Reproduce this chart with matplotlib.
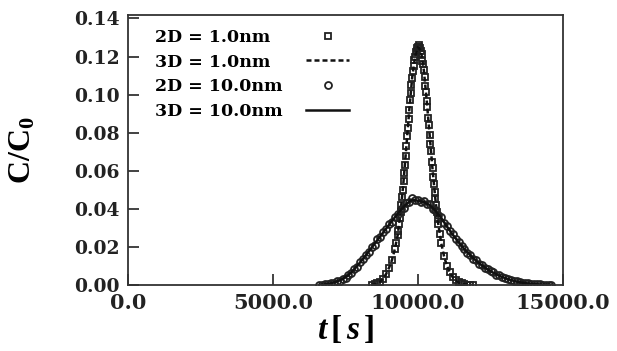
import matplotlib
matplotlib.use('Agg')
import matplotlib.pyplot as plt

plt.rcParams['mathtext.fontset'] = 'custom'
plt.rcParams['mathtext.rm'] = 'Liberation Serif:bold'
plt.rcParams['mathtext.it'] = 'Liberation Serif:bold:italic'
plt.rcParams['mathtext.bf'] = 'Liberation Serif:bold'

# 2D, D = 1.0nm (squares)
t_2d_1nm = [8400, 8500, 8600, 8700, 8800, 8900, 9000, 9100, 9200, 9250,
            9300, 9325, 9350, 9375, 9400, 9425, 9450, 9475, 9500, 9525,
            9550, 9575, 9600, 9625, 9650, 9675, 9700, 9725, 9750, 9775,
            9800, 9825, 9850, 9875, 9900, 9925, 9950, 9975, 10000, 10025,
            10050, 10075, 10100, 10125, 10150, 10175, 10200, 10225, 10250, 10275,
            10300, 10325, 10350, 10375, 10400, 10425, 10450, 10475, 10500, 10525,
            10550, 10575, 10600, 10625, 10650, 10675, 10700, 10750, 10800, 10900,
            11000, 11100, 11200, 11300, 11400, 11500, 11600, 11700, 11800, 11900]
c_2d_1nm = [0.0002, 0.0004, 0.0009, 0.0018, 0.0034, 0.0058, 0.0090, 0.0130, 0.0188, 0.0220,
            0.0262, 0.0285, 0.0318, 0.0352, 0.0383, 0.0418, 0.0462, 0.0497, 0.0545, 0.0588,
            0.0632, 0.0680, 0.0728, 0.0785, 0.0826, 0.0874, 0.0918, 0.0972, 0.1008, 0.1052,
            0.1086, 0.1125, 0.1148, 0.1182, 0.1196, 0.1224, 0.1228, 0.1245, 0.1250, 0.1262,
            0.1248, 0.1245, 0.1228, 0.1212, 0.1176, 0.1162, 0.1128, 0.1094, 0.1046, 0.1012,
            0.0968, 0.0934, 0.0876, 0.0842, 0.0790, 0.0738, 0.0702, 0.0648, 0.0612, 0.0566,
            0.0532, 0.0486, 0.0452, 0.0418, 0.0384, 0.0348, 0.0322, 0.0268, 0.0222, 0.0152,
            0.0100, 0.0066, 0.0040, 0.0025, 0.0014, 0.0008, 0.0004, 0.0002, 0.0001, 0.0000]

# 3D, D = 1.0nm (dotted line)
t_3d_1nm = [8400, 8500, 8600, 8700, 8800, 8900, 9000, 9100, 9200, 9300,
            9400, 9500, 9600, 9700, 9800, 9900, 10000, 10100, 10200, 10300,
            10400, 10500, 10600, 10700, 10800, 10900, 11000, 11100, 11200, 11300,
            11400, 11500, 11600, 11700, 11800, 11900]
c_3d_1nm = [0.0002, 0.0004, 0.0009, 0.0018, 0.0034, 0.0058, 0.0090, 0.0130, 0.0188, 0.0262,
            0.0383, 0.0542, 0.0730, 0.0920, 0.1090, 0.1200, 0.1250, 0.1230, 0.1130, 0.0970,
            0.0790, 0.0610, 0.0450, 0.0320, 0.0220, 0.0150, 0.0100, 0.0066, 0.0040, 0.0025,
            0.0014, 0.0008, 0.0004, 0.0002, 0.0001, 0.0000]

# 2D, D = 10.0nm (circles)
t_2d_10nm = [6600, 6700, 6800, 6900, 7000, 7100, 7200, 7300, 7400, 7500,
             7600, 7700, 7800, 7900, 8000, 8100, 8200, 8300, 8400, 8500,
             8600, 8700, 8800, 8900, 9000, 9100, 9200, 9300, 9400, 9500,
             9600, 9700, 9800, 9900, 10000, 10100, 10200, 10300, 10400, 10500,
             10600, 10700, 10800, 10900, 11000, 11100, 11200, 11300, 11400, 11500,
             11600, 11700, 11800, 11900, 12000, 12100, 12200, 12300, 12400, 12500,
             12600, 12700, 12800, 12900, 13000, 13100, 13200, 13300, 13400, 13500,
             13600, 13700, 13800, 13900, 14000, 14100, 14200, 14300, 14400, 14500, 14600]
c_2d_10nm = [0.0000, 0.0002, 0.0005, 0.0006, 0.0010, 0.0012, 0.0019, 0.0023, 0.0033, 0.0039,
             0.0054, 0.0064, 0.0085, 0.0097, 0.0121, 0.0134, 0.0159, 0.0173, 0.0199, 0.0212,
             0.0240, 0.0252, 0.0280, 0.0292, 0.0320, 0.0331, 0.0359, 0.0372, 0.0398, 0.0406,
             0.0429, 0.0436, 0.0456, 0.0444, 0.0446, 0.0434, 0.0440, 0.0426, 0.0424, 0.0401,
             0.0394, 0.0368, 0.0356, 0.0326, 0.0311, 0.0281, 0.0268, 0.0240, 0.0228, 0.0203,
             0.0191, 0.0169, 0.0160, 0.0139, 0.0131, 0.0112, 0.0106, 0.0090, 0.0084, 0.0071,
             0.0066, 0.0054, 0.0050, 0.0041, 0.0037, 0.0030, 0.0027, 0.0021, 0.0019, 0.0014,
             0.0013, 0.0009, 0.0009, 0.0006, 0.0005, 0.0004, 0.0003, 0.0002, 0.0001, 0.0001, 0.0000]

# 3D, D = 10.0nm (solid line)
t_3d_10nm = [6600, 6800, 7000, 7200, 7400, 7600, 7800, 8000, 8200, 8400,
             8600, 8800, 9000, 9200, 9400, 9600, 9800, 10000, 10200, 10400,
             10600, 10800, 11000, 11200, 11400, 11600, 11800, 12000, 12200, 12400,
             12600, 12800, 13000, 13200, 13400, 13600, 13800, 14000, 14200, 14400, 14600]
c_3d_10nm = [0.0000, 0.0004, 0.0009, 0.0018, 0.0031, 0.0052, 0.0082, 0.0118, 0.0156, 0.0196,
             0.0236, 0.0276, 0.0316, 0.0355, 0.0393, 0.0425, 0.0448, 0.0442, 0.0436, 0.0420,
             0.0390, 0.0352, 0.0307, 0.0264, 0.0225, 0.0188, 0.0157, 0.0128, 0.0103, 0.0082,
             0.0064, 0.0049, 0.0036, 0.0026, 0.0018, 0.0012, 0.0008, 0.0005, 0.0003, 0.0001, 0.0000]

labels = ['2D = 1.0nm', '3D = 1.0nm', '2D = 10.0nm', '3D = 10.0nm']

fig = plt.figure(figsize=(6.17, 3.51), dpi=100)
ax = fig.add_axes([128 / 617, 66 / 351, 435 / 617, 270 / 351])

ink = '#111111'
mk_edge = '#222222'
l2d1, = ax.plot(t_2d_1nm, c_2d_1nm, linestyle='none', marker='s', markersize=5,
                markerfacecolor='none', markeredgecolor=mk_edge, markeredgewidth=1.3)
l3d1, = ax.plot(t_3d_1nm, c_3d_1nm, linestyle=(0, (2, 1.2)), color=ink, linewidth=1.8)
l2d10, = ax.plot(t_2d_10nm, c_2d_10nm, linestyle='none', marker='o', markersize=5,
                 markerfacecolor='none', markeredgecolor=mk_edge, markeredgewidth=1.3)
l3d10, = ax.plot(t_3d_10nm, c_3d_10nm, linestyle='-', color=ink, linewidth=1.8)

ax.set_xlim(0, 15000)
ax.set_ylim(0, 0.1418)
ax.set_xticks([0, 5000, 10000, 15000])
ax.set_xticklabels(['0.0', '5000.0', '10000.0', '15000.0'])
ax.set_yticks([0.0, 0.02, 0.04, 0.06, 0.08, 0.10, 0.12, 0.14])
ax.set_yticklabels(['0.00', '0.02', '0.04', '0.06', '0.08', '0.10', '0.12', '0.14'])

ax.tick_params(axis='both', direction='in', length=8, width=1.2, colors='#222222')
ax.tick_params(axis='y', pad=6)
ax.tick_params(axis='x', pad=6)
for lab in ax.get_yticklabels():
    lab.set_fontfamily('DejaVu Serif')
    lab.set_fontweight('bold')
    lab.set_fontsize(13.5)
for lab in ax.get_xticklabels():
    lab.set_fontfamily('DejaVu Serif')
    lab.set_fontweight('bold')
    lab.set_fontsize(15)

for sp in ax.spines.values():
    sp.set_linewidth(1.3)
    sp.set_color('#333333')

ax.set_ylabel(r'$\mathrm{C/C_0}$', fontsize=23, labelpad=26)
ax.set_xlabel(r'$t\,[\,s\,]$', fontsize=24, labelpad=0)

# legend: text column on the left, handle column on the right
leg_font = {'family': 'DejaVu Serif', 'weight': 'bold', 'size': 12.5}
handles = [l2d1, l3d1, l2d10, l3d10]
leg_text = ax.legend(handles, labels, loc='upper left', bbox_to_anchor=(0.045, 0.975),
                     frameon=False, handlelength=0, handletextpad=0, labelspacing=0.45,
                     borderaxespad=0.0, prop=leg_font)
for h in leg_text.legend_handles:
    h.set_visible(False)
ax.add_artist(leg_text)

leg_mark = ax.legend(handles, labels, loc='upper left', bbox_to_anchor=(0.393, 0.975),
                     frameon=False, handlelength=2.5, handletextpad=0, labelspacing=0.45,
                     borderaxespad=0.0, prop=leg_font)
for txt in leg_mark.get_texts():
    txt.set_visible(False)

fig.savefig('out.png', dpi=100)
